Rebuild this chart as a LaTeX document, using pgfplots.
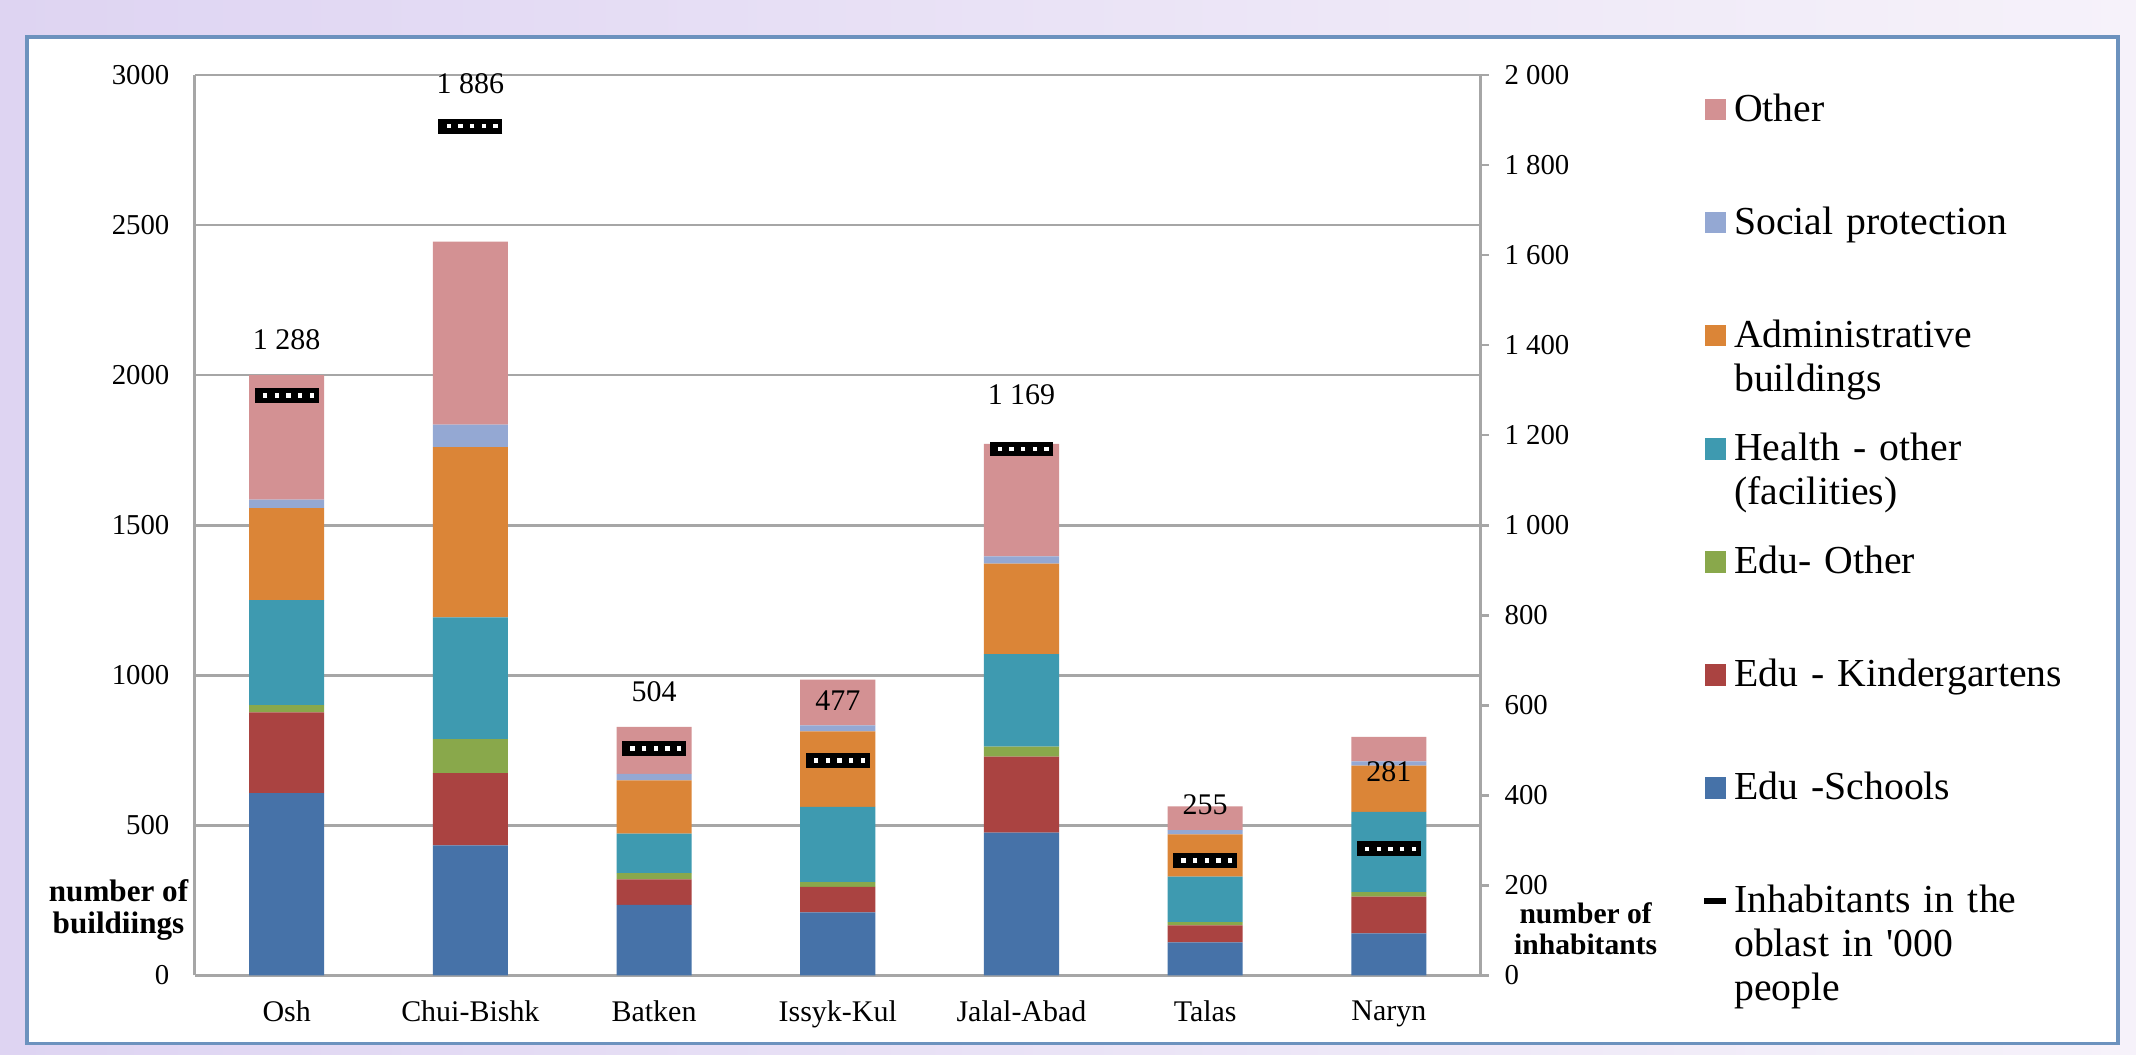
\documentclass[border=0pt]{standalone}
\usepackage{fontspec}
\setmainfont{Liberation Serif}
\usepackage{pgfplots}
\pgfplotsset{compat=1.18}
\usepackage{pgfplotstable}

\definecolor{cSch}{RGB}{70,114,168}
\definecolor{cKin}{RGB}{170,67,65}
\definecolor{cEdo}{RGB}{137,168,75}
\definecolor{cHea}{RGB}{62,154,176}
\definecolor{cAdm}{RGB}{219,133,55}
\definecolor{cSoc}{RGB}{148,168,211}
\definecolor{cOth}{RGB}{211,145,147}
\definecolor{cGrid}{RGB}{166,166,166}
\definecolor{cFrame}{RGB}{108,146,190}
\definecolor{cBgA}{RGB}{222,212,242}
\definecolor{cBgB}{RGB}{246,242,250}

\pgfplotstableread{
x  sch kin edo hea adm soc oth
0  607 269 24  350 307 28  415
1  433 241 113 406 567 75  610
2  235 85  21  131 178 21  157
3  210 85  16  250 252 20  152
4  476 253 33  308 302 24  375
5  110 57  10  152 141 14  79
6  140 122 15  268 154 14  82
}\bld

\pgfplotstableread{
x inh off
0 1288 14.35
1 1886 10.85
2 504  14.7
3 477  15.4
4 1169 14.0
5 255  14.35
6 281  19.9
}\inh

\begin{document}
\begin{tikzpicture}[x=1pt,y=1pt]
\shade[left color=cBgA, right color=cBgB] (0,0) rectangle (548.8,270.9);
\fill[white] (7,2.8) rectangle (544.25,261.45);
\draw[cFrame, line width=1pt] (7,2.8) rectangle (544.25,261.45);

\begin{axis}[
  at={(50.05pt,20.3pt)}, anchor=south west,
  scale only axis, width=330.4pt, height=231.35pt,
  ybar stacked, bar width=19.3pt,
  xmin=-0.5, xmax=6.5, ymin=0, ymax=3000,
  xtick={0,...,6},
  xticklabels={Osh,Chui-Bishk,Batken,Issyk-Kul,Jalal-Abad,Talas,Naryn},
  ytick={0,500,...,3000},
  axis x line*=bottom, axis y line*=left,
  axis line style={cGrid, line width=0.7pt},
  ymajorgrids, grid style={cGrid, line width=0.7pt},
  major tick length=0pt,
  /pgf/number format/assume math mode=true,
  yticklabel style={font=\rmfamily\fontsize{7.4}{9}\selectfont, /pgf/number format/1000 sep={}, xshift=-3pt},
  xticklabel style={font=\rmfamily\fontsize{7.7}{9}\selectfont, yshift=-3pt},
  legend cell align=left,
  legend style={at={(1.1708,0.9795)}, anchor=north west, draw=none, fill=none, inner sep=0pt,
    font=\rmfamily\fontsize{10.2}{11.3}\selectfont, column sep=1.2pt, row sep=0pt,
    nodes={text width=92pt, align=left, text height=7pt, text depth=22.05pt, inner xsep=0pt, inner ysep=0pt}},
]
\addlegendimage{legend image code/.code={\fill[cOth] (0pt,8pt) rectangle (5.1pt,13.1pt);}}
\addlegendimage{legend image code/.code={\fill[cSoc] (0pt,8pt) rectangle (5.1pt,13.1pt);}}
\addlegendimage{legend image code/.code={\fill[cAdm] (0pt,8pt) rectangle (5.1pt,13.1pt);}}
\addlegendimage{legend image code/.code={\fill[cHea] (0pt,8pt) rectangle (5.1pt,13.1pt);}}
\addlegendimage{legend image code/.code={\fill[cEdo] (0pt,8pt) rectangle (5.1pt,13.1pt);}}
\addlegendimage{legend image code/.code={\fill[cKin] (0pt,8pt) rectangle (5.1pt,13.1pt);}}
\addlegendimage{legend image code/.code={\fill[cSch] (0pt,8pt) rectangle (5.1pt,13.1pt);}}
\addlegendimage{legend image code/.code={\draw[black, line width=1.6pt] (-0.3pt,10.55pt) -- (5.4pt,10.55pt);}}
\addplot[fill=cSch, draw=none] table[x=x,y=sch]{\bld};
\addplot[fill=cKin, draw=none] table[x=x,y=kin]{\bld};
\addplot[fill=cEdo, draw=none] table[x=x,y=edo]{\bld};
\addplot[fill=cHea, draw=none] table[x=x,y=hea]{\bld};
\addplot[fill=cAdm, draw=none] table[x=x,y=adm]{\bld};
\addplot[fill=cSoc, draw=none] table[x=x,y=soc]{\bld};
\addplot[fill=cOth, draw=none] table[x=x,y=oth]{\bld};
\legend{Other,Social protection,Administrative\\buildings,Health - other\\(facilities),Edu- Other,Edu - Kindergartens,Edu -Schools,Inhabitants in the\\oblast in \textquotesingle000\\people}
\end{axis}

\begin{axis}[
  at={(50.05pt,20.3pt)}, anchor=south west,
  scale only axis, width=330.4pt, height=231.35pt,
  xmin=-0.5, xmax=6.5, ymin=0, ymax=2000,
  axis x line=none, axis y line*=right,
  ytick={0,200,...,2000},
  axis line style={cGrid, line width=0.7pt},
  tick style={cGrid, line width=0.7pt}, tick align=outside, major tick length=2pt,
  /pgf/number format/assume math mode=true,
  /pgf/number format/1000 sep={\ },
  yticklabel style={font=\rmfamily\fontsize{7.4}{9}\selectfont, xshift=0.6pt},
]
\addplot[only marks, mark=-, mark size=8.2pt, mark options={black, line width=3.8pt},
  nodes near coords, point meta=y,
  visualization depends on={\thisrow{off}\as\off},
  every node near coord/.append style={anchor=center, yshift=\off pt, font=\rmfamily\fontsize{7.7}{9}\selectfont, text=black}]
  table[x=x,y=inh]{\inh};
\addplot[only marks, mark=-, mark size=7pt, mark options={white, line width=1.1pt, dash pattern=on 1.1pt off 1.9pt}]
  table[x=x,y=inh]{\inh};
\end{axis}

\node[font=\rmfamily\bfseries\fontsize{8}{8}\selectfont, align=center] at (30.45,37.1) {number of\\buildiings};
\node[font=\rmfamily\bfseries\fontsize{7.6}{8}\selectfont, align=center] at (407.4,32.2) {number of\\inhabitants};
\pgfresetboundingbox
\useasboundingbox (0,0) rectangle (548.8,270.9);
\end{tikzpicture}
\end{document}
